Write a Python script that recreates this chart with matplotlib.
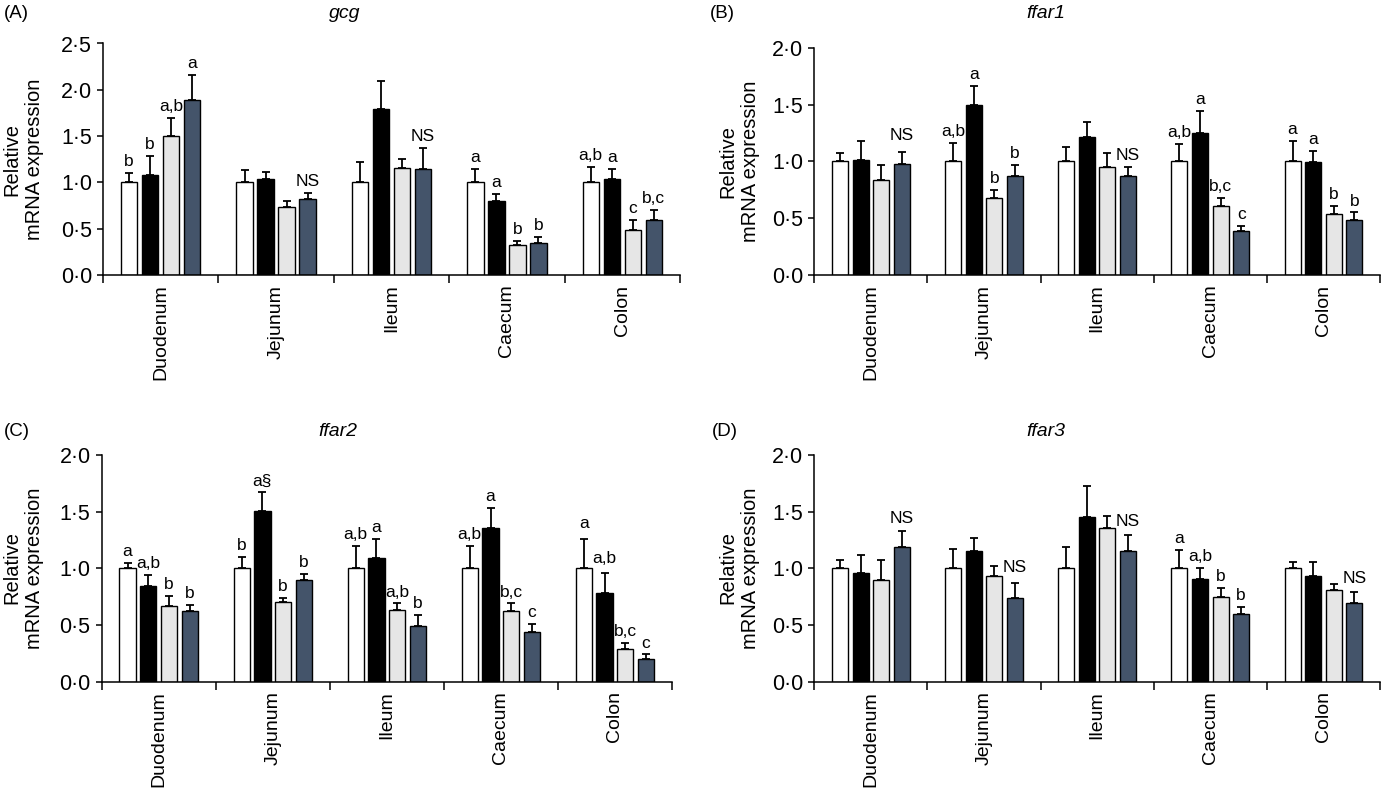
import numpy as np
import matplotlib
matplotlib.use("Agg")
import matplotlib.pyplot as plt

plt.rcParams['font.family'] = ['Liberation Sans', 'DejaVu Sans']

# ---------------- data ----------------
categories = ['Duodenum', 'Jejunum', 'Ileum', 'Caecum', 'Colon']
yticks_A = [0.0, 0.5, 1.0, 1.5, 2.0, 2.5]
yticks_BCD = [0.0, 0.5, 1.0, 1.5, 2.0]

gcg_mean = [[1.00, 1.08, 1.50, 1.89], [1.00, 1.04, 0.73, 0.82], [1.00, 1.79, 1.16, 1.15],
            [1.00, 0.80, 0.32, 0.35], [1.00, 1.04, 0.49, 0.59]]
gcg_sem = [[0.10, 0.21, 0.20, 0.27], [0.13, 0.07, 0.07, 0.07], [0.22, 0.30, 0.09, 0.22],
           [0.14, 0.07, 0.05, 0.06], [0.17, 0.10, 0.10, 0.11]]
gcg_sig = [['b', 'b', 'a,b', 'a'], ['', '', '', 'NS'], ['', '', '', 'NS'],
           ['a', 'a', 'b', 'b'], ['a,b', 'a', 'c', 'b,c']]

ffar1_mean = [[1.00, 1.01, 0.84, 0.98], [1.00, 1.50, 0.68, 0.87], [1.00, 1.21, 0.95, 0.87],
              [1.00, 1.25, 0.61, 0.39], [1.00, 0.99, 0.54, 0.48]]
ffar1_sem = [[0.07, 0.17, 0.13, 0.10], [0.16, 0.16, 0.07, 0.10], [0.13, 0.14, 0.12, 0.08],
             [0.15, 0.19, 0.07, 0.04], [0.18, 0.10, 0.07, 0.07]]
ffar1_sig = [['', '', '', 'NS'], ['a,b', 'a', 'b', 'b'], ['', '', '', 'NS'],
             ['a,b', 'a', 'b,c', 'c'], ['a', 'a', 'b', 'b']]

ffar2_mean = [[1.00, 0.84, 0.67, 0.62], [1.00, 1.51, 0.70, 0.90], [1.00, 1.09, 0.63, 0.49],
              [1.00, 1.36, 0.62, 0.44], [1.00, 0.78, 0.29, 0.20]]
ffar2_sem = [[0.05, 0.10, 0.09, 0.06], [0.10, 0.16, 0.04, 0.05], [0.20, 0.17, 0.06, 0.10],
             [0.20, 0.17, 0.07, 0.07], [0.26, 0.18, 0.05, 0.04]]
ffar2_sig = [['a', 'a,b', 'b', 'b'], ['b', 'a§', 'b', 'b'], ['a,b', 'a', 'a,b', 'b'],
             ['a,b', 'a', 'b,c', 'c'], ['a', 'a,b', 'b,c', 'c']]

ffar3_mean = [[1.00, 0.96, 0.90, 1.19], [1.00, 1.15, 0.93, 0.74], [1.00, 1.45, 1.36, 1.15],
              [1.00, 0.91, 0.75, 0.60], [1.00, 0.93, 0.81, 0.69]]
ffar3_sem = [[0.07, 0.16, 0.17, 0.14], [0.17, 0.12, 0.09, 0.13], [0.19, 0.28, 0.10, 0.14],
             [0.16, 0.09, 0.08, 0.06], [0.06, 0.13, 0.05, 0.10]]
ffar3_sig = [['', '', '', 'NS'], ['', '', '', 'NS'], ['', '', '', 'NS'],
             ['a', 'a,b', 'b', 'b'], ['', '', '', 'NS']]

genes = ['gcg', 'ffar1', 'ffar2', 'ffar3']
panel_letters = ['(A)', '(B)', '(C)', '(D)']

# ---------------- style ----------------
bar_colors = ['#ffffff', '#000000', '#e6e6e6', '#44546a']
W, H = 1383, 801
# axes rectangles in pixels: left, right, top, bottom
rects_px = [(103, 680, 43.5, 275), (814.3, 1380, 47.7, 275),
            (101.7, 672, 455, 681.7), (814.3, 1380, 455, 681.7)]
title_px = [(345, 13), (1046, 13), (338, 432), (1046, 432)]
letter_px = [(4, 13), (710, 13), (4, 432), (712, 432)]
ylabel_px = [(23, 159), (739, 161), (23, 568), (739, 568)]
# extra label lift (points) for some annotations: (panel, group, bar)
extra_pad = {(1, 0, 3): 4.0, (2, 4, 0): 3.0, (2, 4, 1): 2.0,
             (3, 1, 3): 3.0, (3, 2, 3): 2.0, (3, 4, 3): 1.5, (3, 0, 3): 1.0}

fig = plt.figure(figsize=(W / 100, H / 100), dpi=100)

means = [gcg_mean, ffar1_mean, ffar2_mean, ffar3_mean]
sems = [gcg_sem, ffar1_sem, ffar2_sem, ffar3_sem]
sigs = [gcg_sig, ffar1_sig, ffar2_sig, ffar3_sig]
yticks_all = [yticks_A, yticks_BCD, yticks_BCD, yticks_BCD]

bar_w = 0.142
step = 0.182
offsets = (np.arange(4) - 1.5) * step
centers = np.arange(len(categories)) + 0.5

for p in range(4):
    l, r, t, b = rects_px[p]
    ax = fig.add_axes([l / W, 1 - b / H, (r - l) / W, (b - t) / H])
    m = np.array(means[p])
    s = np.array(sems[p])
    for k in range(4):
        xs = centers + offsets[k]
        ax.bar(xs, m[:, k], width=bar_w, color=bar_colors[k], edgecolor='black',
               linewidth=1.0, zorder=2)
        ax.errorbar(xs, m[:, k], yerr=[np.zeros(len(xs)), s[:, k]], fmt='none',
                    ecolor='black', elinewidth=1.3, capsize=3.2, capthick=1.3, zorder=3)
        for g in range(len(categories)):
            txt = sigs[p][g][k]
            if txt:
                pad = 5.0 + extra_pad.get((p, g, k), 0.0)
                ax.annotate(txt, (xs[g], m[g, k] + s[g, k]), xytext=(0, pad),
                            textcoords='offset points', ha='center', va='baseline',
                            fontsize=12.5)
    yt = yticks_all[p]
    ax.set_ylim(0, yt[-1])
    ax.set_xlim(0, len(categories))
    ax.set_yticks(yt)
    ax.set_yticklabels([f"{v:.1f}".replace('.', '\u00b7') for v in yt], fontsize=15.5)
    ax.set_xticks(np.arange(len(categories) + 1))
    ax.set_xticklabels([])
    ax.set_xticks(centers, minor=True)
    ax.set_xticklabels(categories, minor=True, rotation=90, fontsize=14)
    ax.tick_params(axis='x', which='major', direction='out', length=6, width=1.1)
    ax.tick_params(axis='x', which='minor', length=0, pad=7)
    ax.tick_params(axis='y', direction='out', length=4.5, width=1.1, pad=3.5)
    for sp in ['top', 'right']:
        ax.spines[sp].set_visible(False)
    for sp in ['left', 'bottom']:
        ax.spines[sp].set_linewidth(1.1)

    tx, ty = title_px[p]
    fig.text(tx / W, 1 - ty / H, genes[p], ha='center', va='center', fontsize=14,
             style='italic')
    lx, ly = letter_px[p]
    fig.text(lx / W, 1 - ly / H, panel_letters[p], ha='left', va='center', fontsize=13.5)
    yx, yy = ylabel_px[p]
    fig.text(yx / W, 1 - yy / H, 'Relative\nmRNA expression', ha='center', va='center',
             rotation=90, fontsize=14.5, linespacing=1.2)

fig.savefig('out.png', dpi=100)
